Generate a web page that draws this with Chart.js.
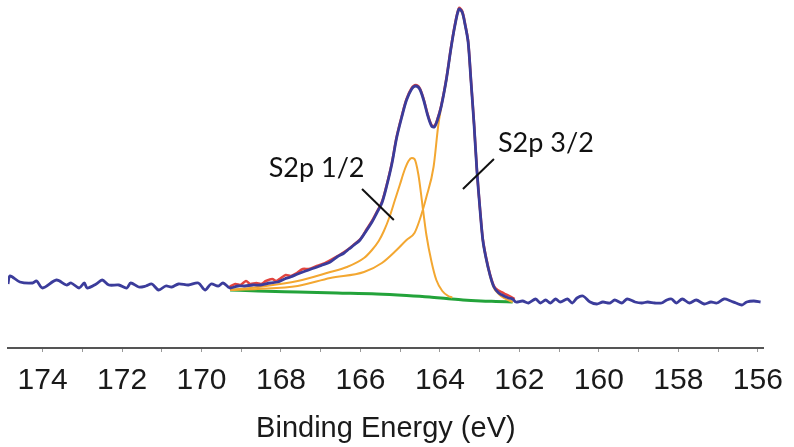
<!DOCTYPE html>
<html>
<head>
<meta charset="utf-8">
<script src="https://cdn.jsdelivr.net/npm/chart.js@4.4.0/dist/chart.umd.min.js"></script>
<style>
  html, body { margin: 0; padding: 0; background: #fff; }
</style>
</head>
<body>
<canvas id="xps" width="794" height="447"></canvas>
<script>
// S2p core level: measured spectrum, doublet fit and Shirley background

// measured counts over the full window (eV, counts)
var scanEnergy = [
  174.87, 174.82, 174.57, 174.25, 174.15, 174.00, 173.65, 173.40, 173.28, 173.08,
  172.95, 172.88, 172.65, 172.50, 172.33, 172.08, 171.88, 171.78, 171.58, 171.40,
  171.25, 171.08, 170.90, 170.75, 170.58, 170.33, 170.08, 169.91, 169.76, 169.58,
  169.46, 169.33, 169.28, 169.08, 168.91, 168.71, 168.51, 168.28, 168.08, 167.91,
  167.76, 167.58, 167.38, 167.16, 166.96, 166.76, 166.59, 166.41, 166.29, 166.16,
  166.01, 165.84, 165.71, 165.59, 165.46, 165.34, 165.21, 165.09, 164.96, 164.84,
  164.71, 164.61, 164.51, 164.41, 164.31, 164.21, 164.14, 164.07, 163.97, 163.84,
  163.72, 163.62, 163.52, 163.44, 163.37, 163.29, 163.22, 163.14, 163.07, 162.99,
  162.92, 162.84, 162.74, 162.64, 162.52, 162.39, 162.27, 162.17, 162.09, 161.92,
  161.77, 161.59, 161.47, 161.34, 161.22, 161.09, 160.97, 160.79, 160.67, 160.55,
  160.40, 160.22, 160.05, 159.90, 159.72, 159.60, 159.42, 159.29, 159.09, 158.92,
  158.77, 158.59, 158.42, 158.29, 158.17, 158.05, 157.90, 157.72, 157.55, 157.35,
  157.18, 157.03, 156.85, 156.68, 156.55, 156.40, 156.28, 156.10, 155.93
];
var scanCounts = [
  640, 720, 660, 650, 670, 600, 680, 630, 650, 600,
  650, 600, 640, 680, 630, 630, 600, 650, 610, 620,
  640, 580, 620, 610, 640, 630, 650, 580, 640, 620,
  650, 610, 600, 620, 620, 630, 630, 650, 660, 690,
  710, 740, 770, 800, 830, 860, 910, 950, 990, 1030,
  1080, 1180, 1260, 1350, 1450, 1620, 1840, 2100, 2310, 2480,
  2590, 2620, 2590, 2480, 2330, 2220, 2210, 2270, 2410, 2680,
  3000, 3230, 3390, 3360, 3240, 3060, 2680, 2230, 1780, 1380,
  1080, 900, 730, 610, 550, 520, 500, 490, 460, 470,
  450, 490, 450, 480, 450, 490, 460, 490, 450, 500,
  520, 460, 440, 460, 450, 480, 450, 490, 460, 450,
  460, 450, 450, 480, 490, 450, 490, 450, 480, 440,
  460, 450, 490, 470, 450, 430, 460, 470, 460
];

// raw points inside the fitted window
var rawEnergy = [
  169.30, 169.15, 169.02, 168.88, 168.78, 168.62, 168.50, 168.38, 168.22, 168.12,
  168.00, 167.88, 167.75, 167.60, 167.45, 167.30, 167.10, 166.95, 166.80, 166.62,
  166.45, 166.30, 166.15, 166.00, 165.84, 165.71, 165.59, 165.46, 165.34, 165.21,
  165.09, 164.96, 164.84, 164.71, 164.61, 164.51, 164.41, 164.31, 164.21, 164.14,
  164.07, 163.97, 163.84, 163.72, 163.62, 163.52, 163.44, 163.37, 163.29, 163.22,
  163.14, 163.07, 162.99, 162.92, 162.84, 162.74, 162.64, 162.55, 162.45, 162.36,
  162.25, 162.12
];
var rawCounts = [
  610, 640, 630, 670, 640, 650, 640, 670, 690, 670,
  700, 730, 720, 750, 790, 790, 820, 840, 870, 910,
  950, 990, 1040, 1090, 1190, 1270, 1360, 1460, 1630, 1850,
  2110, 2320, 2490, 2600, 2630, 2600, 2490, 2340, 2230, 2220,
  2280, 2420, 2690, 3010, 3240, 3400, 3370, 3250, 3070, 2690,
  2240, 1790, 1390, 1090, 910, 740, 620, 580, 560, 540,
  520, 490
];

// Shirley background
var bgEnergy = [169.28, 168.58, 167.58, 166.59, 165.59, 164.84, 164.26, 163.84, 163.42, 162.97, 162.59, 162.17];
var bgCounts = [580, 570, 560, 550, 540, 525, 510, 495, 480, 470, 465, 460];

// S2p 1/2 component (on background)
var halfEnergy = [
  169.28, 168.58, 167.58, 166.76, 166.34, 165.91, 165.71, 165.54, 165.41, 165.26,
  165.14, 165.01, 164.89, 164.79, 164.71, 164.64, 164.54, 164.44, 164.34, 164.21,
  164.09, 163.94, 163.79, 163.69
];
var halfCounts = [
  580, 610, 670, 760, 810, 900, 980, 1070, 1170, 1320,
  1470, 1630, 1780, 1870, 1900, 1890, 1730, 1430, 1130, 860,
  680, 570, 520, 505
];

// S2p 3/2 component (on background)
var threeHalfEnergy = [
  169.28, 168.58, 167.58, 166.76, 165.91, 165.46, 165.09, 164.84, 164.64, 164.51,
  164.34, 164.16, 164.04, 163.97, 163.84, 163.72, 163.62, 163.52, 163.44, 163.37,
  163.29, 163.22, 163.14, 163.07, 162.99, 162.92, 162.84, 162.74, 162.64, 162.52,
  162.39, 162.17
];
var threeHalfCounts = [
  580, 590, 620, 700, 760, 850, 980, 1080, 1150, 1280,
  1510, 1810, 2230, 2400, 2670, 2990, 3220, 3380, 3350, 3230,
  3050, 2670, 2220, 1770, 1370, 1070, 890, 720, 600, 540,
  500, 460
];

var xTitle = 'Binding Energy (eV)';

function pairs(xs, ys) {
  return xs.map(function (e, i) { return { x: e, y: ys[i] }; });
}

// peak labels with their leader lines, in data units
var callouts = [
  { text: 'S2p 1/2', at: [168.31, 1710], from: [165.96, 1590], to: [165.16, 1280] },
  { text: 'S2p 3/2', at: [162.54, 1960], from: [162.64, 1890], to: [163.42, 1590] }
];

var calloutPlugin = {
  id: 'callouts',
  afterDatasetsDraw: function (chart) {
    var ctx = chart.ctx;
    var xs = chart.scales.x, ys = chart.scales.y;
    ctx.save();
    ctx.strokeStyle = '#111';
    ctx.lineWidth = 2;
    ctx.fillStyle = '#111';
    ctx.font = '27px Lato';
    ctx.textAlign = 'left';
    ctx.textBaseline = 'alphabetic';
    callouts.forEach(function (c) {
      ctx.beginPath();
      ctx.moveTo(xs.getPixelForValue(c.from[0]), ys.getPixelForValue(c.from[1]));
      ctx.lineTo(xs.getPixelForValue(c.to[0]), ys.getPixelForValue(c.to[1]));
      ctx.stroke();
      ctx.fillText(c.text, xs.getPixelForValue(c.at[0]), ys.getPixelForValue(c.at[1]));
    });
    ctx.restore();
  }
};

// first dataset ends up on top, so the spectrum goes first
var ctx = document.getElementById('xps').getContext('2d');
var xpsChart = new Chart(ctx, {
  type: 'line',
  data: {
    datasets: [
      {
        label: 'Spectrum',
        data: pairs(scanEnergy, scanCounts),
        borderColor: '#3b3c9b',
        borderWidth: 2.8,
        pointRadius: 0,
        tension: 0.3
      },
      {
        label: 'Raw',
        data: pairs(rawEnergy, rawCounts),
        borderColor: '#e2453f',
        borderWidth: 2.5,
        pointRadius: 0,
        tension: 0.3
      },
      {
        label: 'S2p 3/2',
        data: pairs(threeHalfEnergy, threeHalfCounts),
        borderColor: '#f3a731',
        borderWidth: 2,
        pointRadius: 0,
        cubicInterpolationMode: 'monotone'
      },
      {
        label: 'S2p 1/2',
        data: pairs(halfEnergy, halfCounts),
        borderColor: '#f3a731',
        borderWidth: 2,
        pointRadius: 0,
        cubicInterpolationMode: 'monotone'
      },
      {
        label: 'Background',
        data: pairs(bgEnergy, bgCounts),
        borderColor: '#23a33a',
        borderWidth: 3,
        pointRadius: 0,
        cubicInterpolationMode: 'monotone'
      }
    ]
  },
  options: {
    responsive: false,
    animation: false,
    layout: { padding: { left: 8, right: 24, top: 0, bottom: 0 } },
    plugins: {
      legend: { display: false },
      tooltip: { enabled: false }
    },
    scales: {
      x: {
        type: 'linear',
        reverse: true,
        min: 155.85,
        max: 174.87,
        afterFit: function (scale) { scale.height = 99; },
        border: { display: true, color: '#555', width: 2 },
        grid: { drawOnChartArea: false, drawTicks: true, tickLength: 4, color: '#999' },
        ticks: {
          stepSize: 1,
          includeBounds: false,
          autoSkip: false,
          maxRotation: 0,
          padding: 11,
          color: '#1a1a1a',
          font: { family: '"Liberation Sans", Arial, sans-serif', size: 30 },
          callback: function (v) { return v % 2 === 0 ? String(v) : ''; }
        },
        title: {
          display: true,
          text: xTitle,
          color: '#1a1a1a',
          font: { family: '"Liberation Sans", Arial, sans-serif', size: 29 },
          padding: { top: 0, bottom: 1 }
        }
      },
      y: {
        display: false,
        min: 0,
        max: 3480
      }
    }
  },
  plugins: [calloutPlugin]
});
</script>
</body>
</html>
